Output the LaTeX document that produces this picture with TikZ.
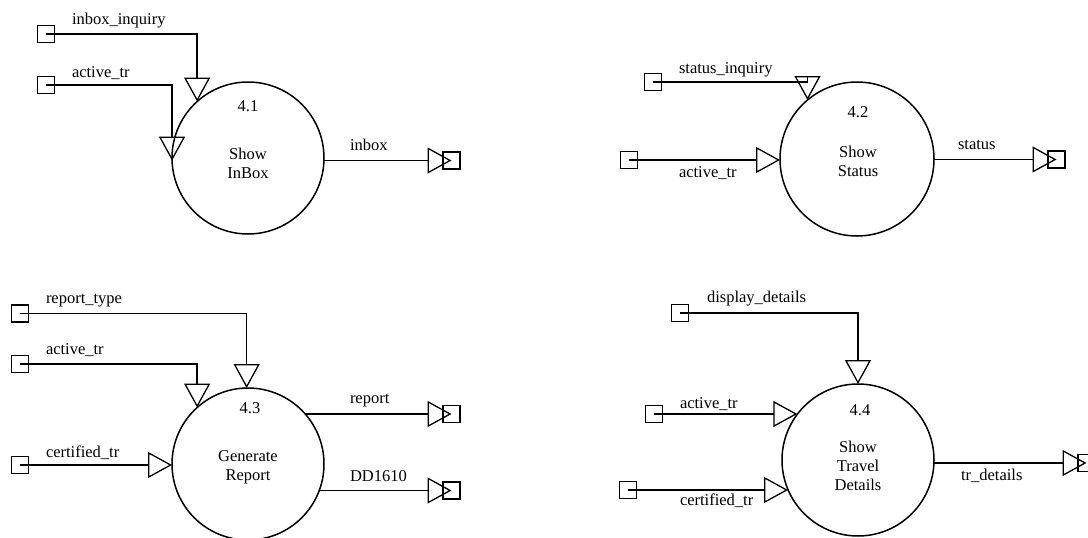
\documentclass[tikz,border=0pt]{standalone}
\usepackage{fontspec}
\setmainfont{Liberation Serif}
\usetikzlibrary{arrows.meta,calc}
\begin{document}
\begin{tikzpicture}[x=1pt,y=-1pt,
  every node/.style={font=\fontsize{16.5}{19}\selectfont, inner sep=0pt, outer sep=0pt},
  proc/.style={circle, draw, line width=1.5pt, minimum size=152pt},
  store/.style={draw, line width=1.3pt, minimum size=17pt},
  dfd/.style={draw, line width=1.3pt, -{Triangle[open, length=24pt, width=26pt, line width=1.3pt]}},
  lbl/.style={anchor=base west},
  ptext/.style={align=center}]
\useasboundingbox (0,0) rectangle (1088,538);
\clip (0,0) rectangle (1088,538);

% ---------- 4.1 ----------
\node[proc] (c41) at (248,158) {};
\node (n41) at (248,106) {4.1};
\node[ptext] (t41) at (248,163) {Show\\InBox};
\node[store] (s11) at (46,34) {};
\node[store] (s12) at (46,85) {};
\node[store] (o11) at (451.5,160.5) {};
\draw[dfd] (s11.center) -| (c41.132);
\draw[dfd] (s12.center) -| (c41.182);
\draw[dfd] (o11 -| c41.358) -- (o11.center);
\node[lbl] (l11) at (72,24) {inbox\_inquiry};
\node[lbl] (l12) at (72,77) {active\_tr};
\node[lbl] (l13) at (350,150) {inbox};

% ---------- 4.2 ----------
\node[proc, minimum size=154pt] (c42) at (857,159) {};
\node (n42) at (858,112) {4.2};
\node[ptext] (t42) at (858,161) {Show\\Status};
\node[store] (s21) at (653,82) {};
\node[store] (s22) at (629,160) {};
\node[store] (o21) at (1056.5,159.5) {};
\coordinate (k21) at ($(c42.130)+(0,-24)$);
\draw[dfd] (s21.center) -| (k21) -- (c42.130);
\draw[dfd] (s22.center) -- (s22 -| c42.179);
\draw[dfd] (o21 -| c42.359) -- (o21.center);
\node[lbl] (l21) at (679,73) {status\_inquiry};
\node[lbl] (l22) at (679,177) {active\_tr};
\node[lbl] (l23) at (958,149) {status};

% ---------- 4.3 ----------
\node[proc] (c43) at (248,464) {};
\node (n43) at (250,408) {4.3};
\node[ptext] (t43) at (248,467) {Generate\\Report};
\node[store] (s31) at (20,313.5) {};
\node[store] (s32) at (20,364) {};
\node[store] (s33) at (20,465) {};
\node[store] (o31) at (451.5,414) {};
\node[store] (o32) at (451.5,490.5) {};
\draw[dfd] (s31.center) -| (c43.91);
\draw[dfd] (s32.center) -| (c43.132);
\draw[dfd] (s33.center) -- (s33 -| c43.179);
\draw[dfd] (o31 -| c43.41) -- (o31.center);
\draw[dfd] (o32 -| c43.340) -- (o32.center);
\node[lbl] (l31) at (46,303) {report\_type};
\node[lbl] (l32) at (46,354) {active\_tr};
\node[lbl] (l33) at (46,457) {certified\_tr};
\node[lbl] (l34) at (350,403) {report};
\node[lbl] (l35) at (350,481) {DD1610};

% ---------- 4.4 ----------
\node[proc] (c44) at (858,460) {};
\node (n44) at (860,410) {4.4};
\node[ptext] (t44) at (858,466) {Show\\Travel\\Details};
\node[store] (s41) at (680,313) {};
\node[store] (s42) at (654,414) {};
\node[store] (s43) at (628,490) {};
\node[store] (o41) at (1086.5,463) {};
\draw[dfd] (s41.center) -| (c44.90);
\draw[dfd] (s42.center) -- (s42 -| c44.143);
\draw[dfd] (s43.center) -- (s43 -| c44.157);
\draw[dfd] (o41 -| c44.358) -- (o41.center);
\node[lbl] (l41) at (707,302) {display\_details};
\node[lbl] (l42) at (680,408) {active\_tr};
\node[lbl] (l43) at (680,505) {certified\_tr};
\node[lbl] (l44) at (961,480) {tr\_details};
\end{tikzpicture}
\end{document}
